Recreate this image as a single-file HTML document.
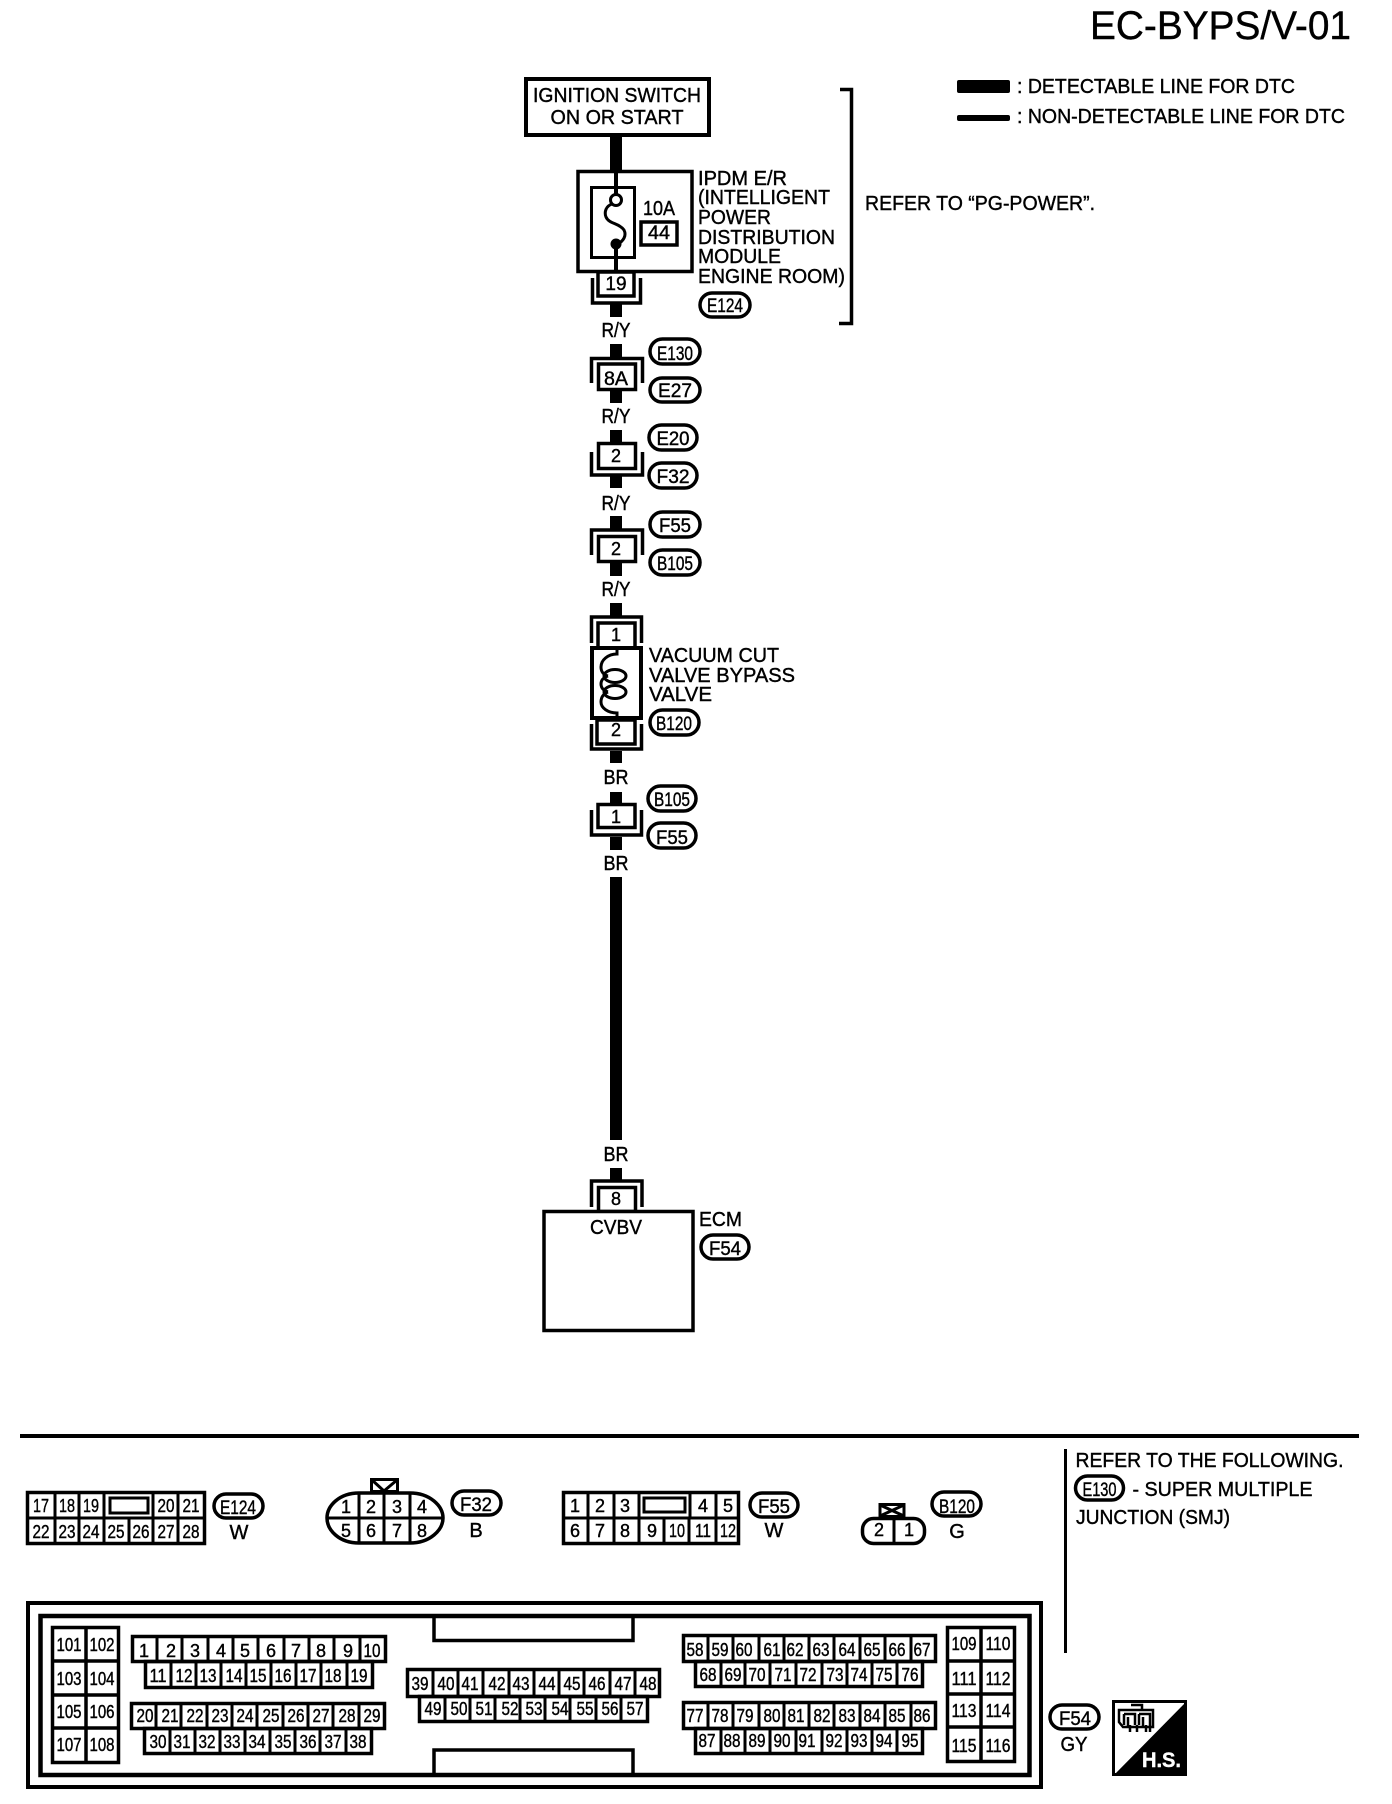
<!DOCTYPE html>
<html><head><meta charset="utf-8"><style>
html,body{margin:0;padding:0;background:#fff}
svg{display:block}
text{font-family:"Liberation Sans",sans-serif;fill:#000;stroke:#000;stroke-width:.4}
.m{text-anchor:middle}
.l{font-size:20px}
.p{font-size:19px;text-anchor:middle}
.n{font-size:18px;text-anchor:middle}
.o{fill:none;stroke:#000;stroke-width:3.5}
.s{fill:none;stroke:#000;stroke-width:3}
.w{fill:#fff;stroke:#000;stroke-width:3.5}
</style></head><body>
<svg xmlns="http://www.w3.org/2000/svg" width="1392" height="1804" viewBox="0 0 1392 1804">
<rect width="1392" height="1804" fill="#fff"/>

<!-- header -->
<text x="1090" y="39" font-size="40" textLength="261" lengthAdjust="spacingAndGlyphs">EC-BYPS/V-01</text>
<rect x="957" y="80" width="53" height="13" rx="2"/>
<rect x="957" y="115" width="53" height="6" rx="2"/>
<text class="l" x="1017" y="93" textLength="278" lengthAdjust="spacingAndGlyphs">: DETECTABLE LINE FOR DTC</text>
<text class="l" x="1017" y="123" textLength="328" lengthAdjust="spacingAndGlyphs">: NON-DETECTABLE LINE FOR DTC</text>

<!-- ignition -->
<rect x="526" y="79" width="183" height="56" fill="#fff" stroke="#000" stroke-width="4"/>
<text class="l m" x="617" y="102" textLength="168" lengthAdjust="spacingAndGlyphs">IGNITION SWITCH</text>
<text class="l m" x="617" y="124" textLength="133" lengthAdjust="spacingAndGlyphs">ON OR START</text>
<rect x="610" y="137" width="12" height="35"/>

<!-- IPDM -->
<rect x="578" y="171.5" width="114" height="100" class="o"/>
<rect x="591.5" y="187.5" width="43" height="70" class="s"/>
<path d="M616,171V194M616,248V272" stroke="#000" stroke-width="4" fill="none"/>
<circle cx="616" cy="200" r="5.5" fill="#fff" stroke="#000" stroke-width="3"/>
<circle cx="616" cy="244" r="5.5"/>
<path d="M612,204C606,206 604,212 606,217C609,224 619,223 624,230C627,236 623,241 618,244" class="s"/>
<text class="l m" x="659" y="215" textLength="32" lengthAdjust="spacingAndGlyphs">10A</text>
<rect x="641" y="222" width="36" height="23" class="o"/>
<text class="p" x="659" y="239" textLength="22" lengthAdjust="spacingAndGlyphs">44</text>
<text class="l" x="698" y="185" textLength="89" lengthAdjust="spacingAndGlyphs">IPDM E/R</text>
<text class="l" x="698" y="204" textLength="132" lengthAdjust="spacingAndGlyphs">(INTELLIGENT</text>
<text class="l" x="698" y="224" textLength="73" lengthAdjust="spacingAndGlyphs">POWER</text>
<text class="l" x="698" y="244" textLength="137" lengthAdjust="spacingAndGlyphs">DISTRIBUTION</text>
<text class="l" x="698" y="263" textLength="83" lengthAdjust="spacingAndGlyphs">MODULE</text>
<text class="l" x="698" y="283" textLength="147" lengthAdjust="spacingAndGlyphs">ENGINE ROOM)</text>
<rect x="700" y="293" width="50" height="24" rx="12" class="o"/>
<text class="p" x="725" y="312" textLength="36" lengthAdjust="spacingAndGlyphs">E124</text>
<path d="M840,89.5H851.5V323.5H839" class="o"/>
<text class="l" x="865" y="210" textLength="230" lengthAdjust="spacingAndGlyphs">REFER TO “PG-POWER”.</text>

<!-- conn 19 -->
<rect x="598" y="272" width="36" height="24" class="o"/>
<path d="M592.5,278V303H640.5V278" class="o"/>
<text class="p" x="616" y="290">19</text>
<rect x="610" y="304" width="12" height="13"/>
<text class="l m" x="616" y="337" textLength="29" lengthAdjust="spacingAndGlyphs">R/Y</text>

<!-- 8A -->
<rect x="610" y="344" width="12" height="14"/>
<path d="M591.5,383V358.5H642.5V383" class="o"/>
<rect x="598.5" y="364" width="37" height="25.5" class="o"/>
<text class="p" x="616" y="385" textLength="24" lengthAdjust="spacingAndGlyphs">8A</text>
<rect x="610" y="391" width="12" height="12"/>
<rect x="650" y="339" width="50" height="25" rx="12.5" class="o"/>
<text class="p" x="675" y="360" textLength="36" lengthAdjust="spacingAndGlyphs">E130</text>
<rect x="650" y="378" width="50" height="24" rx="12" class="o"/>
<text class="p" x="675" y="397" textLength="34" lengthAdjust="spacingAndGlyphs">E27</text>
<text class="l m" x="616" y="423" textLength="29" lengthAdjust="spacingAndGlyphs">R/Y</text>

<!-- 2 (E20/F32) -->
<rect x="610" y="430" width="12" height="13"/>
<rect x="598.5" y="443.5" width="37" height="25" class="o"/>
<path d="M591.5,452V475H642.5V452" class="o"/>
<text class="n" x="616" y="462">2</text>
<rect x="610" y="476" width="12" height="12"/>
<rect x="649" y="425" width="48" height="25" rx="12.5" class="o"/>
<text class="p" x="673" y="445" textLength="33" lengthAdjust="spacingAndGlyphs">E20</text>
<rect x="649" y="463" width="48" height="25" rx="12.5" class="o"/>
<text class="p" x="673" y="483" textLength="33" lengthAdjust="spacingAndGlyphs">F32</text>
<text class="l m" x="616" y="510" textLength="29" lengthAdjust="spacingAndGlyphs">R/Y</text>

<!-- 2 (F55/B105) -->
<rect x="610" y="516" width="12" height="13"/>
<path d="M591.5,555V530H642.5V555" class="o"/>
<rect x="598.5" y="536.5" width="37" height="25" class="o"/>
<text class="n" x="616" y="555">2</text>
<rect x="610" y="563" width="12" height="13"/>
<rect x="650" y="512" width="50" height="25" rx="12.5" class="o"/>
<text class="p" x="675" y="532" textLength="32" lengthAdjust="spacingAndGlyphs">F55</text>
<rect x="650" y="550" width="50" height="25" rx="12.5" class="o"/>
<text class="p" x="675" y="570" textLength="36" lengthAdjust="spacingAndGlyphs">B105</text>
<text class="l m" x="616" y="596" textLength="29" lengthAdjust="spacingAndGlyphs">R/Y</text>

<!-- valve -->
<rect x="610" y="603" width="12" height="13"/>
<path d="M591.5,643V617H641.5V643" class="o"/>
<rect x="598" y="623" width="37" height="25" class="o"/>
<text class="n" x="616" y="641">1</text>
<rect x="592" y="648" width="49" height="70" fill="#fff" stroke="#000" stroke-width="4"/>
<path d="M617,650V654C608,654 601,660 601,667C601,672 604,675 608,676" class="s"/>
<path d="M608,676C602,678 601,681 601,684C601,688 604,691 608,692" class="s"/>
<path d="M608,692C603,694 601,698 601,702C601,708 608,713 617,713V717" class="s"/>
<ellipse cx="615" cy="676" rx="11" ry="6.5" class="s"/>
<ellipse cx="615" cy="692" rx="11" ry="6.5" class="s"/>
<rect x="597" y="720" width="38" height="24" class="o"/>
<path d="M591.5,724V749H641.5V724" class="o"/>
<text class="n" x="616" y="736">2</text>
<rect x="610" y="751" width="12" height="12"/>
<text class="l" x="649" y="662" textLength="130" lengthAdjust="spacingAndGlyphs">VACUUM CUT</text>
<text class="l" x="649" y="682" textLength="146" lengthAdjust="spacingAndGlyphs">VALVE BYPASS</text>
<text class="l" x="649" y="701" textLength="63" lengthAdjust="spacingAndGlyphs">VALVE</text>
<rect x="650" y="710" width="49" height="25" rx="12.5" class="o"/>
<text class="p" x="674" y="730" textLength="36" lengthAdjust="spacingAndGlyphs">B120</text>
<text class="l m" x="616" y="784" textLength="25" lengthAdjust="spacingAndGlyphs">BR</text>

<!-- 1 (B105/F55) -->
<rect x="610" y="792" width="12" height="12"/>
<rect x="598" y="804.5" width="37" height="23" class="o"/>
<path d="M591.5,810V835H641.5V810" class="o"/>
<text class="n" x="616" y="823">1</text>
<rect x="610" y="837" width="12" height="13"/>
<rect x="648" y="786" width="48" height="25" rx="12.5" class="o"/>
<text class="p" x="672" y="806" textLength="36" lengthAdjust="spacingAndGlyphs">B105</text>
<rect x="648" y="823" width="48" height="25" rx="12.5" class="o"/>
<text class="p" x="672" y="844" textLength="32" lengthAdjust="spacingAndGlyphs">F55</text>
<text class="l m" x="616" y="870" textLength="25" lengthAdjust="spacingAndGlyphs">BR</text>
<rect x="610" y="877" width="12" height="263"/>
<text class="l m" x="616" y="1161" textLength="25" lengthAdjust="spacingAndGlyphs">BR</text>

<!-- ECM -->
<rect x="610" y="1168" width="12" height="12"/>
<path d="M591.5,1207V1181H642V1207" class="o"/>
<rect x="598.5" y="1187.5" width="37" height="24" class="o"/>
<text class="n" x="616" y="1205">8</text>
<rect x="544" y="1211.5" width="149" height="119" fill="#fff" stroke="#000" stroke-width="3.5"/>
<text class="l m" x="616" y="1234" textLength="52" lengthAdjust="spacingAndGlyphs">CVBV</text>
<text class="l" x="699" y="1226" textLength="43" lengthAdjust="spacingAndGlyphs">ECM</text>
<rect x="701" y="1235" width="48" height="24" rx="12" class="o"/>
<text class="p" x="725" y="1255" textLength="32" lengthAdjust="spacingAndGlyphs">F54</text>

<!-- divider -->
<rect x="20" y="1434" width="1339" height="4"/>
<rect x="1064" y="1449" width="3" height="204"/>
<text class="l" x="1075.5" y="1467" textLength="268" lengthAdjust="spacingAndGlyphs">REFER TO THE FOLLOWING.</text>
<rect x="1075.5" y="1476" width="48" height="24" rx="12" class="o"/>
<text class="p" x="1099.5" y="1496" textLength="34" lengthAdjust="spacingAndGlyphs">E130</text>
<text class="l" x="1132.5" y="1496" textLength="180" lengthAdjust="spacingAndGlyphs">- SUPER MULTIPLE</text>
<text class="l" x="1076" y="1524" textLength="154" lengthAdjust="spacingAndGlyphs">JUNCTION (SMJ)</text>

<!-- E124 connector -->
<rect x="27.5" y="1492.5" width="177" height="51" class="o"/>
<path d="M27,1518H205M55,1492V1544M79,1492V1544M104,1492V1544M153,1492V1544M178,1492V1544M129,1518V1544" class="s"/>
<rect x="110" y="1498" width="38" height="15" class="s"/>
<text class="n" x="41" y="1512" textLength="16" lengthAdjust="spacingAndGlyphs">17</text>
<text class="n" x="67" y="1512" textLength="16" lengthAdjust="spacingAndGlyphs">18</text>
<text class="n" x="91" y="1512" textLength="16" lengthAdjust="spacingAndGlyphs">19</text>
<text class="n" x="166" y="1512" textLength="17" lengthAdjust="spacingAndGlyphs">20</text>
<text class="n" x="191" y="1512" textLength="17" lengthAdjust="spacingAndGlyphs">21</text>
<text class="n" x="41" y="1538" textLength="17" lengthAdjust="spacingAndGlyphs">22</text>
<text class="n" x="67" y="1538" textLength="17" lengthAdjust="spacingAndGlyphs">23</text>
<text class="n" x="91" y="1538" textLength="17" lengthAdjust="spacingAndGlyphs">24</text>
<text class="n" x="116" y="1538" textLength="17" lengthAdjust="spacingAndGlyphs">25</text>
<text class="n" x="141" y="1538" textLength="17" lengthAdjust="spacingAndGlyphs">26</text>
<text class="n" x="166" y="1538" textLength="17" lengthAdjust="spacingAndGlyphs">27</text>
<text class="n" x="191" y="1538" textLength="17" lengthAdjust="spacingAndGlyphs">28</text>
<rect x="214" y="1494" width="49" height="24" rx="12" class="o"/>
<text class="p" x="238" y="1514" textLength="36" lengthAdjust="spacingAndGlyphs">E124</text>
<text class="l m" x="239" y="1539">W</text>

<!-- F32 connector -->
<g transform="translate(-2,0)">
<rect x="373.5" y="1479.5" width="26" height="12" class="s"/>
<path d="M374,1480L386,1491L399,1480" class="s"/>
<path d="M361,1493H412C432,1493 445,1506 445,1518C445,1530 432,1543 412,1543H361C341,1543 329,1530 329,1518C329,1506 341,1493 361,1493Z" class="o" style="fill:#fff"/>
<path d="M329,1518H445M361,1493V1543M386,1493V1543M412,1493V1543" class="s"/>
<text class="n" x="348" y="1513">1</text>
<text class="n" x="373" y="1513">2</text>
<text class="n" x="399" y="1513">3</text>
<text class="n" x="424" y="1513">4</text>
<text class="n" x="348" y="1537">5</text>
<text class="n" x="373" y="1537">6</text>
<text class="n" x="399" y="1537">7</text>
<text class="n" x="424" y="1537">8</text>
<rect x="454" y="1491" width="49" height="24" rx="12" class="o"/>
<text class="p" x="478" y="1511" textLength="32" lengthAdjust="spacingAndGlyphs">F32</text>
<text class="l m" x="478" y="1537">B</text>
</g>

<!-- F55 connector -->
<rect x="563.5" y="1492.5" width="175" height="51" class="o"/>
<path d="M563,1518H739M588,1492V1544M614,1492V1544M639,1492V1544M690,1492V1518M716,1492V1544M664,1518V1544M689,1518V1544" class="s"/>
<rect x="644" y="1498" width="41" height="14" class="s"/>
<text class="n" x="575" y="1512">1</text>
<text class="n" x="600" y="1512">2</text>
<text class="n" x="625" y="1512">3</text>
<text class="n" x="703" y="1512">4</text>
<text class="n" x="728" y="1512">5</text>
<text class="n" x="575" y="1537">6</text>
<text class="n" x="600" y="1537">7</text>
<text class="n" x="625" y="1537">8</text>
<text class="n" x="652" y="1537">9</text>
<text class="n" x="677" y="1537" textLength="16" lengthAdjust="spacingAndGlyphs">10</text>
<text class="n" x="703" y="1537" textLength="16" lengthAdjust="spacingAndGlyphs">11</text>
<text class="n" x="728" y="1537" textLength="16" lengthAdjust="spacingAndGlyphs">12</text>
<rect x="750" y="1493" width="48" height="24" rx="12" class="o"/>
<text class="p" x="774" y="1513" textLength="32" lengthAdjust="spacingAndGlyphs">F55</text>
<text class="l m" x="774" y="1537">W</text>

<!-- B120 connector -->
<rect x="880" y="1504.5" width="24" height="12" class="s"/>
<path d="M880,1505L904,1516M904,1505L880,1516" class="s"/>
<rect x="862.5" y="1518.5" width="62" height="25" rx="11" fill="#fff" stroke="#000" stroke-width="3.5"/>
<path d="M894,1518V1544" class="s"/>
<text class="n" x="879" y="1536">2</text>
<text class="n" x="909" y="1536">1</text>
<rect x="932" y="1492" width="49" height="24" rx="12" class="o"/>
<text class="p" x="957" y="1513" textLength="36" lengthAdjust="spacingAndGlyphs">B120</text>
<text class="l m" x="957" y="1538">G</text>

<!-- ECM connector -->
<rect x="28" y="1603" width="1013" height="184" fill="none" stroke="#000" stroke-width="4"/>
<rect x="40.5" y="1616" width="989" height="159" fill="none" stroke="#000" stroke-width="4.5"/>
<path d="M434,1618V1640.5H633V1618M434,1773V1750H633V1773" class="o"/>

<!-- 101-108 -->
<g transform="translate(-1,0)">
<rect x="53.5" y="1627.5" width="66" height="135" class="o"/>
<path d="M87,1627V1763M53,1661H120M53,1695H120M53,1728H120" class="o"/>
<text class="n" x="70" y="1651" textLength="25" lengthAdjust="spacingAndGlyphs">101</text>
<text class="n" x="103" y="1651" textLength="25" lengthAdjust="spacingAndGlyphs">102</text>
<text class="n" x="70" y="1685" textLength="25" lengthAdjust="spacingAndGlyphs">103</text>
<text class="n" x="103" y="1685" textLength="25" lengthAdjust="spacingAndGlyphs">104</text>
<text class="n" x="70" y="1718" textLength="25" lengthAdjust="spacingAndGlyphs">105</text>
<text class="n" x="103" y="1718" textLength="25" lengthAdjust="spacingAndGlyphs">106</text>
<text class="n" x="70" y="1751" textLength="25" lengthAdjust="spacingAndGlyphs">107</text>
<text class="n" x="103" y="1751" textLength="25" lengthAdjust="spacingAndGlyphs">108</text>
</g>

<!-- 109-116 -->
<rect x="947.5" y="1627.5" width="67" height="134" class="o"/>
<path d="M981,1627V1762M947,1661H1015M947,1694H1015M947,1727H1015" class="o"/>
<text class="n" x="964" y="1650" textLength="25" lengthAdjust="spacingAndGlyphs">109</text>
<text class="n" x="998" y="1650" textLength="25" lengthAdjust="spacingAndGlyphs">110</text>
<text class="n" x="964" y="1685" textLength="25" lengthAdjust="spacingAndGlyphs">111</text>
<text class="n" x="998" y="1685" textLength="25" lengthAdjust="spacingAndGlyphs">112</text>
<text class="n" x="964" y="1717" textLength="25" lengthAdjust="spacingAndGlyphs">113</text>
<text class="n" x="998" y="1717" textLength="25" lengthAdjust="spacingAndGlyphs">114</text>
<text class="n" x="964" y="1752" textLength="25" lengthAdjust="spacingAndGlyphs">115</text>
<text class="n" x="998" y="1752" textLength="25" lengthAdjust="spacingAndGlyphs">116</text>

<!-- 1-19 -->
<rect x="132.5" y="1636.5" width="253" height="25" class="o"/>
<rect x="145.5" y="1661.5" width="227" height="26" class="o"/>
<path d="M157,1636V1662M182,1636V1662M208,1636V1662M233,1636V1662M258,1636V1662M284,1636V1662M309,1636V1662M334,1636V1662M360,1636V1662M171,1662V1688M196,1662V1688M221,1662V1688M246,1662V1688M271,1662V1688M296,1662V1688M321,1662V1688M347,1662V1688" class="s"/>
<text class="n" x="144" y="1657">1</text>
<text class="n" x="171" y="1657">2</text>
<text class="n" x="195" y="1657">3</text>
<text class="n" x="221" y="1657">4</text>
<text class="n" x="245" y="1657">5</text>
<text class="n" x="271" y="1657">6</text>
<text class="n" x="296" y="1657">7</text>
<text class="n" x="321" y="1657">8</text>
<text class="n" x="348" y="1657">9</text>
<text class="n" x="372" y="1657" textLength="17" lengthAdjust="spacingAndGlyphs">10</text>
<text class="n" x="158" y="1682" textLength="17" lengthAdjust="spacingAndGlyphs">11</text>
<text class="n" x="184" y="1682" textLength="17" lengthAdjust="spacingAndGlyphs">12</text>
<text class="n" x="208" y="1682" textLength="17" lengthAdjust="spacingAndGlyphs">13</text>
<text class="n" x="234" y="1682" textLength="17" lengthAdjust="spacingAndGlyphs">14</text>
<text class="n" x="258" y="1682" textLength="17" lengthAdjust="spacingAndGlyphs">15</text>
<text class="n" x="283" y="1682" textLength="17" lengthAdjust="spacingAndGlyphs">16</text>
<text class="n" x="308" y="1682" textLength="17" lengthAdjust="spacingAndGlyphs">17</text>
<text class="n" x="333" y="1682" textLength="17" lengthAdjust="spacingAndGlyphs">18</text>
<text class="n" x="359" y="1682" textLength="17" lengthAdjust="spacingAndGlyphs">19</text>

<!-- 20-38 -->
<rect x="131.5" y="1703.5" width="253" height="25" class="o"/>
<rect x="144.5" y="1728.5" width="227" height="25" class="o"/>
<path d="M156,1703V1729M181,1703V1729M207,1703V1729M232,1703V1729M257,1703V1729M283,1703V1729M308,1703V1729M333,1703V1729M359,1703V1729M170,1729V1754M195,1729V1754M220,1729V1754M245,1729V1754M270,1729V1754M295,1729V1754M320,1729V1754M346,1729V1754" class="s"/>
<text class="n" x="145" y="1722" textLength="17" lengthAdjust="spacingAndGlyphs">20</text>
<text class="n" x="170" y="1722" textLength="17" lengthAdjust="spacingAndGlyphs">21</text>
<text class="n" x="195" y="1722" textLength="17" lengthAdjust="spacingAndGlyphs">22</text>
<text class="n" x="220" y="1722" textLength="17" lengthAdjust="spacingAndGlyphs">23</text>
<text class="n" x="245" y="1722" textLength="17" lengthAdjust="spacingAndGlyphs">24</text>
<text class="n" x="271" y="1722" textLength="17" lengthAdjust="spacingAndGlyphs">25</text>
<text class="n" x="296" y="1722" textLength="17" lengthAdjust="spacingAndGlyphs">26</text>
<text class="n" x="321" y="1722" textLength="17" lengthAdjust="spacingAndGlyphs">27</text>
<text class="n" x="347" y="1722" textLength="17" lengthAdjust="spacingAndGlyphs">28</text>
<text class="n" x="372" y="1722" textLength="17" lengthAdjust="spacingAndGlyphs">29</text>
<text class="n" x="158" y="1748" textLength="17" lengthAdjust="spacingAndGlyphs">30</text>
<text class="n" x="182" y="1748" textLength="17" lengthAdjust="spacingAndGlyphs">31</text>
<text class="n" x="207" y="1748" textLength="17" lengthAdjust="spacingAndGlyphs">32</text>
<text class="n" x="232" y="1748" textLength="17" lengthAdjust="spacingAndGlyphs">33</text>
<text class="n" x="257" y="1748" textLength="17" lengthAdjust="spacingAndGlyphs">34</text>
<text class="n" x="283" y="1748" textLength="17" lengthAdjust="spacingAndGlyphs">35</text>
<text class="n" x="308" y="1748" textLength="17" lengthAdjust="spacingAndGlyphs">36</text>
<text class="n" x="333" y="1748" textLength="17" lengthAdjust="spacingAndGlyphs">37</text>
<text class="n" x="358" y="1748" textLength="17" lengthAdjust="spacingAndGlyphs">38</text>

<!-- 39-57 -->
<rect x="407.5" y="1669.5" width="252" height="27" class="o"/>
<rect x="419.5" y="1696.5" width="228" height="25" class="o"/>
<path d="M433,1669V1697M458,1669V1697M483,1669V1697M509,1669V1697M534,1669V1697M559,1669V1697M584,1669V1697M610,1669V1697M635,1669V1697M445,1697V1722M470,1697V1722M495,1697V1722M520,1697V1722M545,1697V1722M570,1697V1722M596,1697V1722M621,1697V1722" class="s"/>
<text class="n" x="420" y="1690" textLength="17" lengthAdjust="spacingAndGlyphs">39</text>
<text class="n" x="446" y="1690" textLength="17" lengthAdjust="spacingAndGlyphs">40</text>
<text class="n" x="470" y="1690" textLength="17" lengthAdjust="spacingAndGlyphs">41</text>
<text class="n" x="497" y="1690" textLength="17" lengthAdjust="spacingAndGlyphs">42</text>
<text class="n" x="521" y="1690" textLength="17" lengthAdjust="spacingAndGlyphs">43</text>
<text class="n" x="547" y="1690" textLength="17" lengthAdjust="spacingAndGlyphs">44</text>
<text class="n" x="572" y="1690" textLength="17" lengthAdjust="spacingAndGlyphs">45</text>
<text class="n" x="597" y="1690" textLength="17" lengthAdjust="spacingAndGlyphs">46</text>
<text class="n" x="623" y="1690" textLength="17" lengthAdjust="spacingAndGlyphs">47</text>
<text class="n" x="648" y="1690" textLength="17" lengthAdjust="spacingAndGlyphs">48</text>
<text class="n" x="433" y="1715" textLength="17" lengthAdjust="spacingAndGlyphs">49</text>
<text class="n" x="459" y="1715" textLength="17" lengthAdjust="spacingAndGlyphs">50</text>
<text class="n" x="484" y="1715" textLength="17" lengthAdjust="spacingAndGlyphs">51</text>
<text class="n" x="510" y="1715" textLength="17" lengthAdjust="spacingAndGlyphs">52</text>
<text class="n" x="534" y="1715" textLength="17" lengthAdjust="spacingAndGlyphs">53</text>
<text class="n" x="560" y="1715" textLength="17" lengthAdjust="spacingAndGlyphs">54</text>
<text class="n" x="585" y="1715" textLength="17" lengthAdjust="spacingAndGlyphs">55</text>
<text class="n" x="610" y="1715" textLength="17" lengthAdjust="spacingAndGlyphs">56</text>
<text class="n" x="635" y="1715" textLength="17" lengthAdjust="spacingAndGlyphs">57</text>

<!-- 58-76 -->
<rect x="683.5" y="1635.5" width="252" height="26" class="o"/>
<rect x="695.5" y="1661.5" width="227" height="25" class="o"/>
<path d="M708,1635V1662M733,1635V1662M759,1635V1662M784,1635V1662M809,1635V1662M834,1635V1662M860,1635V1662M885,1635V1662M911,1635V1662M721,1662V1687M745,1662V1687M770,1662V1687M796,1662V1687M822,1662V1687M847,1662V1687M872,1662V1687M897,1662V1687" class="s"/>
<text class="n" x="695" y="1656" textLength="17" lengthAdjust="spacingAndGlyphs">58</text>
<text class="n" x="720" y="1656" textLength="17" lengthAdjust="spacingAndGlyphs">59</text>
<text class="n" x="744" y="1656" textLength="17" lengthAdjust="spacingAndGlyphs">60</text>
<text class="n" x="772" y="1656" textLength="17" lengthAdjust="spacingAndGlyphs">61</text>
<text class="n" x="795" y="1656" textLength="17" lengthAdjust="spacingAndGlyphs">62</text>
<text class="n" x="821" y="1656" textLength="17" lengthAdjust="spacingAndGlyphs">63</text>
<text class="n" x="847" y="1656" textLength="17" lengthAdjust="spacingAndGlyphs">64</text>
<text class="n" x="872" y="1656" textLength="17" lengthAdjust="spacingAndGlyphs">65</text>
<text class="n" x="897" y="1656" textLength="17" lengthAdjust="spacingAndGlyphs">66</text>
<text class="n" x="922" y="1656" textLength="17" lengthAdjust="spacingAndGlyphs">67</text>
<text class="n" x="708" y="1681" textLength="17" lengthAdjust="spacingAndGlyphs">68</text>
<text class="n" x="733" y="1681" textLength="17" lengthAdjust="spacingAndGlyphs">69</text>
<text class="n" x="757" y="1681" textLength="17" lengthAdjust="spacingAndGlyphs">70</text>
<text class="n" x="783" y="1681" textLength="17" lengthAdjust="spacingAndGlyphs">71</text>
<text class="n" x="808" y="1681" textLength="17" lengthAdjust="spacingAndGlyphs">72</text>
<text class="n" x="835" y="1681" textLength="17" lengthAdjust="spacingAndGlyphs">73</text>
<text class="n" x="859" y="1681" textLength="17" lengthAdjust="spacingAndGlyphs">74</text>
<text class="n" x="884" y="1681" textLength="17" lengthAdjust="spacingAndGlyphs">75</text>
<text class="n" x="910" y="1681" textLength="17" lengthAdjust="spacingAndGlyphs">76</text>

<!-- 77-95 -->
<rect x="683.5" y="1702.5" width="252" height="26" class="o"/>
<rect x="695.5" y="1728.5" width="227" height="25" class="o"/>
<path d="M708,1702V1729M733,1702V1729M759,1702V1729M784,1702V1729M809,1702V1729M834,1702V1729M860,1702V1729M885,1702V1729M911,1702V1729M721,1729V1754M745,1729V1754M770,1729V1754M796,1729V1754M822,1729V1754M847,1729V1754M872,1729V1754M897,1729V1754" class="s"/>
<text class="n" x="695" y="1722" textLength="17" lengthAdjust="spacingAndGlyphs">77</text>
<text class="n" x="720" y="1722" textLength="17" lengthAdjust="spacingAndGlyphs">78</text>
<text class="n" x="745" y="1722" textLength="17" lengthAdjust="spacingAndGlyphs">79</text>
<text class="n" x="772" y="1722" textLength="17" lengthAdjust="spacingAndGlyphs">80</text>
<text class="n" x="796" y="1722" textLength="17" lengthAdjust="spacingAndGlyphs">81</text>
<text class="n" x="822" y="1722" textLength="17" lengthAdjust="spacingAndGlyphs">82</text>
<text class="n" x="847" y="1722" textLength="17" lengthAdjust="spacingAndGlyphs">83</text>
<text class="n" x="872" y="1722" textLength="17" lengthAdjust="spacingAndGlyphs">84</text>
<text class="n" x="897" y="1722" textLength="17" lengthAdjust="spacingAndGlyphs">85</text>
<text class="n" x="922" y="1722" textLength="17" lengthAdjust="spacingAndGlyphs">86</text>
<text class="n" x="707" y="1747" textLength="17" lengthAdjust="spacingAndGlyphs">87</text>
<text class="n" x="732" y="1747" textLength="17" lengthAdjust="spacingAndGlyphs">88</text>
<text class="n" x="757" y="1747" textLength="17" lengthAdjust="spacingAndGlyphs">89</text>
<text class="n" x="782" y="1747" textLength="17" lengthAdjust="spacingAndGlyphs">90</text>
<text class="n" x="807" y="1747" textLength="17" lengthAdjust="spacingAndGlyphs">91</text>
<text class="n" x="834" y="1747" textLength="17" lengthAdjust="spacingAndGlyphs">92</text>
<text class="n" x="859" y="1747" textLength="17" lengthAdjust="spacingAndGlyphs">93</text>
<text class="n" x="884" y="1747" textLength="17" lengthAdjust="spacingAndGlyphs">94</text>
<text class="n" x="910" y="1747" textLength="17" lengthAdjust="spacingAndGlyphs">95</text>

<!-- F54 GY -->
<rect x="1050" y="1705" width="49" height="24" rx="12" class="o"/>
<text class="p" x="1075" y="1725" textLength="32" lengthAdjust="spacingAndGlyphs">F54</text>
<text class="l m" x="1074" y="1751" textLength="27" lengthAdjust="spacingAndGlyphs">GY</text>

<!-- H.S. icon -->
<rect x="1113.5" y="1701.5" width="72" height="73" fill="#fff" stroke="#000" stroke-width="3"/>
<polygon points="1185,1703 1185,1775 1114,1775"/>
<path d="M1119,1710H1153V1727H1123L1119,1722ZM1131,1705H1142V1710M1124,1714H1135V1725M1124,1714V1725M1128,1717V1728M1139,1714H1150V1725M1139,1714V1725M1143,1717V1728M1130,1725V1732M1137,1725V1732M1146,1725V1732M1150,1725V1732" fill="#fff" stroke="#000" stroke-width="2.5"/>
<text x="1142" y="1767" font-size="21" font-weight="bold" textLength="39" lengthAdjust="spacingAndGlyphs" style="fill:#fff;stroke:#fff">H.S.</text>
</svg>
</body></html>
